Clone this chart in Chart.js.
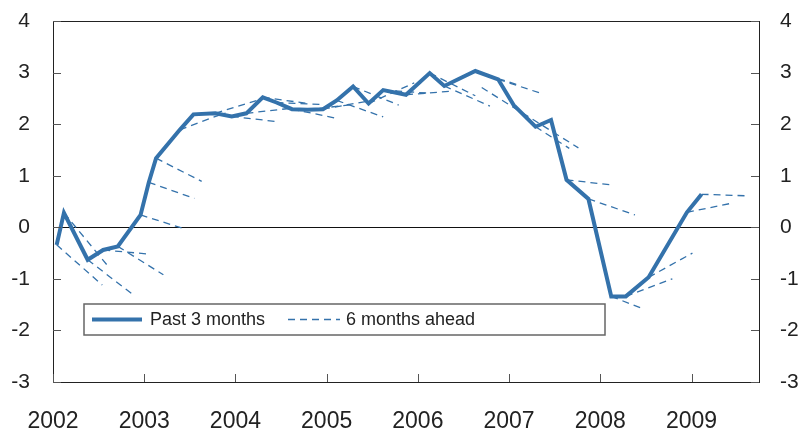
<!DOCTYPE html>
<html>
<head>
<meta charset="utf-8">
<script src="https://cdn.jsdelivr.net/npm/chart.js@4"></script>
<style>
  html, body { margin: 0; padding: 0; background: #fff; }
  #wrap { width: 803px; height: 432px; }
</style>
</head>
<body>
<div id="wrap"><canvas id="grafico"></canvas></div>
<script>
// solid line: past 3 months (decimal year, value)
const dates = [2002.04, 2002.12, 2002.38, 2002.55, 2002.71, 2002.96, 2003.05, 2003.13, 2003.39, 2003.54,
               2003.78, 2003.96, 2004.12, 2004.30, 2004.45, 2004.62, 2004.79, 2004.96, 2005.11, 2005.29,
               2005.46, 2005.62, 2005.87, 2006.13, 2006.29, 2006.63, 2006.88, 2007.05, 2007.29, 2007.46,
               2007.63, 2007.87, 2008.12, 2008.28, 2008.53, 2008.95, 2009.11];
const past3 = [-0.34, 0.28, -0.63, -0.44, -0.37, 0.24, 0.87, 1.34, 1.89, 2.19,
               2.21, 2.15, 2.21, 2.52, 2.42, 2.29, 2.28, 2.29, 2.46, 2.73,
               2.40, 2.66, 2.57, 2.99, 2.74, 3.03, 2.87, 2.37, 1.95, 2.08,
               0.92, 0.55, -1.34, -1.34, -0.97, 0.29, 0.64];

// dashed segments: 6 months ahead expectations
const fcStart = [2002.04, 2002.12, 2002.38, 2002.55, 2002.71, 2002.96, 2003.05, 2003.13, 2003.39, 2003.78,
                 2003.96, 2004.12, 2004.30, 2004.45, 2004.62, 2004.79, 2004.96, 2005.11, 2005.29, 2005.46,
                 2005.62, 2005.87, 2006.13, 2006.29, 2006.63, 2006.88, 2006.70, 2007.29, 2007.63, 2007.87,
                 2008.12, 2008.28, 2008.53, 2008.95, 2009.11];
const fcFrom  = [-0.34, 0.28, -0.63, -0.44, -0.37, 0.24, 0.87, 1.34, 1.89, 2.21,
                 2.15, 2.21, 2.52, 2.42, 2.29, 2.28, 2.29, 2.46, 2.73, 2.40,
                 2.66, 2.57, 2.99, 2.74, 3.03, 2.87, 2.71, 1.95, 0.92, 0.55,
                 -1.34, -1.34, -0.97, 0.29, 0.64];
const fcEnd   = [2002.54, 2002.62, 2002.88, 2003.05, 2003.21, 2003.46, 2003.55, 2003.63, 2003.89, 2004.27,
                 2004.45, 2004.62, 2004.80, 2004.95, 2005.12, 2005.29, 2005.46, 2005.62, 2005.79, 2005.96,
                 2006.12, 2006.37, 2006.63, 2006.79, 2007.13, 2007.38, 2007.76, 2007.66, 2008.13, 2008.38,
                 2008.44, 2008.79, 2009.01, 2009.45, 2009.61];
const fcTo    = [-1.12, -0.79, -1.31, -0.52, -0.92, -0.04, 0.56, 0.89, 2.22, 2.48,
                 2.05, 2.31, 2.40, 2.38, 2.11, 2.38, 2.45, 2.14, 2.37, 2.80,
                 2.60, 2.64, 2.55, 2.35, 2.74, 2.58, 1.54, 1.53, 0.82, 0.24,
                 -1.56, -1.00, -0.50, 0.47, 0.61];

const yearTicks = [2002, 2003, 2004, 2005, 2006, 2007, 2008, 2009];
const legendLabels = ["Past 3 months", "6 months ahead"];

const blue = "#3472ab";
const fontFam = "'Liberation Sans', Arial, sans-serif";

const datasets = [{
    label: legendLabels[0],
    data: dates.map((d, i) => ({ x: d, y: past3[i] })),
    borderColor: blue,
    borderWidth: 4,
    pointRadius: 0,
    fill: false,
    tension: 0,
    yAxisID: "y"
}];
fcStart.forEach((s, i) => {
    datasets.push({
        label: legendLabels[1],
        data: [{ x: s, y: fcFrom[i] }, { x: fcEnd[i], y: fcTo[i] }],
        borderColor: blue,
        borderWidth: 1.3,
        borderDash: [7, 5],
        pointRadius: 0,
        fill: false,
        yAxisID: "y"
    });
});

// frame, inside ticks and legend box
const framePlugin = {
    id: "frame",
    afterDraw(chart) {
        const { ctx, chartArea: a, scales } = chart;
        ctx.save();
        ctx.strokeStyle = "#222";
        ctx.lineWidth = 1;
        ctx.strokeRect(a.left + 0.5, a.top + 0.5, a.right - a.left, a.bottom - a.top);

        ctx.strokeStyle = "#555";
        ctx.beginPath();
        yearTicks.forEach(v => {
            const x = Math.round(scales.x.getPixelForValue(v)) + 0.5;
            ctx.moveTo(x, a.bottom);
            ctx.lineTo(x, a.bottom - 8);
        });
        scales.y.ticks.forEach(t => {
            const y = Math.round(scales.y.getPixelForValue(t.value)) + 0.5;
            ctx.moveTo(a.left, y);
            ctx.lineTo(a.left + 8, y);
            ctx.moveTo(a.right, y);
            ctx.lineTo(a.right - 8, y);
        });
        ctx.stroke();

        // legend
        const lx = a.left + 31, ly = a.top + 283, lw = 521, lh = 31;
        ctx.strokeStyle = "#666";
        ctx.lineWidth = 1.5;
        ctx.strokeRect(lx, ly, lw, lh);
        const cy = ly + lh / 2;
        ctx.strokeStyle = blue;
        ctx.lineWidth = 4;
        ctx.beginPath();
        ctx.moveTo(lx + 8, cy);
        ctx.lineTo(lx + 58, cy);
        ctx.stroke();
        ctx.lineWidth = 1.3;
        ctx.setLineDash([7, 5]);
        ctx.beginPath();
        ctx.moveTo(lx + 204, cy);
        ctx.lineTo(lx + 256, cy);
        ctx.stroke();
        ctx.setLineDash([]);
        ctx.fillStyle = "#222";
        ctx.font = "18px " + fontFam;
        ctx.textBaseline = "middle";
        ctx.fillText(legendLabels[0], lx + 66, cy + 1);
        ctx.fillText(legendLabels[1], lx + 262, cy + 1);
        ctx.restore();
    }
};

function fixVertical(width) {
    return function (scale) {
        scale.width = width;
        scale.paddingTop = 0;
        scale.paddingBottom = 0;
    };
}

const ctx = document.getElementById("grafico").getContext("2d");
const chart = new Chart(ctx, {
    type: "line",
    data: { datasets: datasets },
    options: {
        responsive: true,
        maintainAspectRatio: false,
        animation: false,
        layout: { padding: { top: 21, left: 0, right: 0, bottom: 0 } },
        plugins: {
            legend: { display: false },
            tooltip: { enabled: false }
        },
        scales: {
            x: {
                type: "linear",
                min: 2002,
                max: 2009.74,
                afterFit(scale) {
                    scale.height = 50;
                    scale.paddingLeft = 0;
                    scale.paddingRight = 0;
                },
                grid: { display: false, drawTicks: false },
                border: { display: false },
                ticks: {
                    stepSize: 1,
                    includeBounds: false,
                    autoSkip: false,
                    maxRotation: 0,
                    padding: 26,
                    color: "#222",
                    font: { family: fontFam, size: 23 },
                    callback: v => yearTicks.includes(v) ? String(v) : ""
                }
            },
            y: {
                position: "left",
                min: -3,
                max: 4,
                afterFit: fixVertical(53),
                grid: {
                    drawTicks: false,
                    color: c => c.tick && c.tick.value === 0 ? "#111" : "rgba(0,0,0,0)",
                    lineWidth: 1
                },
                border: { display: false },
                ticks: {
                    stepSize: 1,
                    padding: 23,
                    color: "#222",
                    font: { family: fontFam, size: 21 }
                }
            },
            y2: {
                position: "right",
                min: -3,
                max: 4,
                afterFit: fixVertical(44),
                grid: { display: false, drawTicks: false },
                border: { display: false },
                ticks: {
                    stepSize: 1,
                    padding: 21,
                    color: "#222",
                    font: { family: fontFam, size: 21 }
                }
            }
        }
    },
    plugins: [framePlugin]
});
</script>
</body>
</html>
